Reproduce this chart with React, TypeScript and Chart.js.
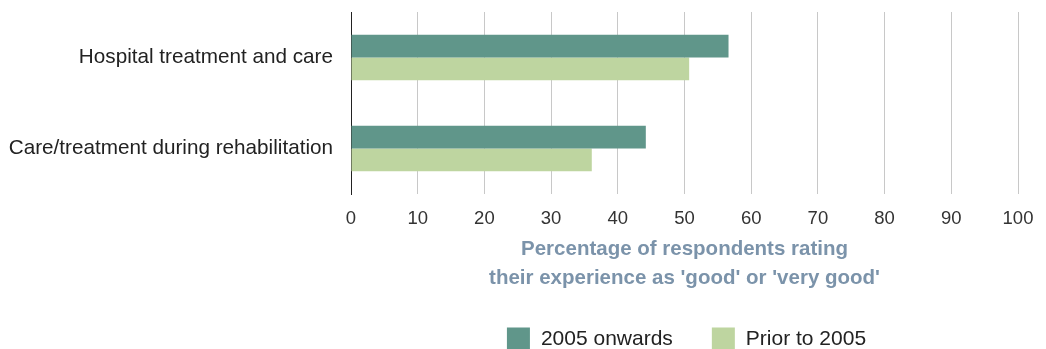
import React, { useEffect, useRef } from "react";
import { Chart, registerables } from "chart.js";

Chart.register(...registerables);

const categories = ["Hospital treatment and care", "Care/treatment during rehabilitation"];
const seriesNames = ["2005 onwards", "Prior to 2005"];
const onwards2005 = [56.6, 44.2];
const prior2005 = [50.7, 36.1];
const seriesColors = ["#60968a", "#bed5a0"];
const axisTitleLines = ["Percentage of respondents rating", "their experience as 'good' or 'very good'"];

const FONT = "'Liberation Sans', Arial, sans-serif";

const legendPlugin = {
  id: "customLegend",
  afterDraw(chart: any) {
    const { ctx, chartArea } = chart;
    const w = chartArea.right - chartArea.left;
    ctx.save();
    ctx.font = `21px ${FONT}`;
    ctx.textBaseline = "middle";
    ctx.textAlign = "left";
    const box = 23;
    const gapText = 11;
    const gapItem = 39;
    const ds = chart.data.datasets;
    const widths = ds.map((d: any) => ctx.measureText(d.label).width);
    let total = 0;
    widths.forEach((wd: number, i: number) => {
      total += box + gapText + wd + (i < widths.length - 1 ? gapItem : 0);
    });
    let x = chartArea.left + w / 2 - total / 2 + 2;
    const yMid = chartArea.bottom + 145;
    ds.forEach((d: any, i: number) => {
      ctx.fillStyle = d.backgroundColor;
      ctx.fillRect(x, yMid - box / 2, box, box);
      x += box + gapText;
      ctx.fillStyle = "#222";
      ctx.fillText(d.label, x, yMid);
      x += widths[i] + gapItem;
    });
    ctx.restore();
  },
};

export default function App() {
  const ref = useRef<HTMLCanvasElement>(null);
  useEffect(() => {
    if (!ref.current) return;
    const chart = new Chart(ref.current, {
      type: "bar",
      data: {
        labels: categories,
        datasets: [
          { label: seriesNames[0], data: onwards2005, backgroundColor: seriesColors[0] },
          { label: seriesNames[1], data: prior2005, backgroundColor: seriesColors[1] },
        ],
      },
      options: {
        indexAxis: "y",
        animation: false,
        responsive: false,
        maintainAspectRatio: false,
        layout: { padding: { top: 4, right: 20, left: 0, bottom: 0 } },
        datasets: { bar: { barPercentage: 1, categoryPercentage: 0.5 } },
        plugins: { legend: { display: false }, tooltip: { enabled: false } },
        scales: {
          x: {
            min: 0,
            max: 100,
            ticks: {
              stepSize: 10,
              color: "#333",
              padding: 14,
              font: { family: FONT, size: 18.5 },
            },
            grid: { color: "#c8c8c8", lineWidth: 1, drawTicks: false },
            border: { display: false },
            title: {
              display: true,
              text: axisTitleLines,
              color: "#7b93aa",
              font: { family: FONT, size: 20.5, weight: "bold", lineHeight: 29 / 20.5 },
              padding: { top: 0, bottom: 56 },
            },
            afterFit(scale: any) {
              scale.height = 155;
              scale.paddingLeft = 0;
              scale.paddingRight = 0;
            },
          },
          y: {
            ticks: {
              color: "#222",
              padding: 18,
              font: { family: FONT, size: 20.7 },
            },
            grid: { display: false, drawTicks: false },
            border: { display: true, color: "#222", width: 1 },
            afterFit(scale: any) {
              scale.width = 343;
              scale.paddingTop = 0;
              scale.paddingBottom = 0;
            },
          },
        },
      },
      plugins: [legendPlugin],
    });
    return () => chart.destroy();
  }, []);
  return (
    <div style={{ width: 1030, height: 341 }}>
      <canvas ref={ref} width={1030} height={341} style={{ display: "block" }} />
    </div>
  );
}
